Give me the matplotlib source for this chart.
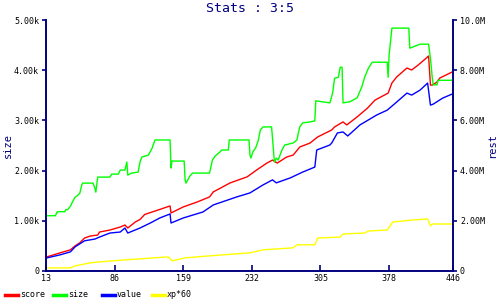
import matplotlib
matplotlib.use('Agg')
import matplotlib.pyplot as plt
from matplotlib.lines import Line2D

# size (k), left axis
size_x = [14, 23, 25, 33, 34, 36, 39, 41, 44, 47, 49, 51, 52, 63, 65, 66, 68, 81, 83, 90,
          92, 97, 99, 100, 104, 111, 113, 115, 122, 126, 127, 129, 145, 146, 147, 160, 161, 162,
          166, 169, 187, 190, 193, 198, 200, 207, 208, 229, 230, 231, 233, 236, 239, 241, 244,
          253, 256, 258, 260, 264, 267, 276, 280, 281, 283, 286, 294, 299, 300, 315, 318, 320,
          324, 326, 328, 329, 336, 344, 349, 352, 356, 360, 376, 377, 378, 381, 399, 400, 411,
          420, 422, 424, 425, 429, 430, 445, 446]
size_y = [1.10, 1.10, 1.18, 1.18, 1.22, 1.22, 1.29, 1.37, 1.47, 1.51, 1.55, 1.71, 1.75, 1.75,
          1.65, 1.57, 1.87, 1.87, 1.93, 1.93, 2.01, 2.01, 2.17, 1.91, 1.95, 1.97, 2.17, 2.27,
          2.31, 2.45, 2.51, 2.61, 2.61, 2.05, 2.19, 2.19, 1.81, 1.75, 1.89, 1.95, 1.95, 2.21,
          2.29, 2.37, 2.41, 2.41, 2.61, 2.61, 2.31, 2.25, 2.37, 2.45, 2.61, 2.81, 2.87, 2.87,
          2.17, 2.25, 2.21, 2.41, 2.51, 2.55, 2.61, 2.71, 2.87, 2.95, 2.97, 2.99, 3.39, 3.35,
          3.55, 3.84, 3.86, 4.06, 4.06, 3.35, 3.37, 3.45, 3.67, 3.86, 4.04, 4.16, 4.16, 3.86,
          4.30, 4.84, 4.84, 4.44, 4.52, 4.52, 4.24, 3.84, 3.71, 3.71, 3.80, 3.80, 3.84]

# score (M), right axis
score_x = [14, 28, 39, 44, 49, 54, 60, 68, 70, 81, 92, 97, 100, 108, 113, 118, 134, 145, 146,
           159, 174, 187, 191, 209, 227, 237, 248, 254, 259, 269, 276, 283, 294, 302, 317, 320,
           329, 333, 344, 355, 363, 377, 381, 386, 397, 402, 409, 419, 420, 422, 424, 429, 432, 445]
score_y = [0.56, 0.72, 0.84, 1.00, 1.12, 1.31, 1.39, 1.43, 1.55, 1.63, 1.75, 1.83, 1.71, 1.95,
           2.05, 2.25, 2.45, 2.59, 2.31, 2.55, 2.75, 2.95, 3.15, 3.51, 3.75, 4.02, 4.30, 4.42,
           4.30, 4.54, 4.62, 4.94, 5.10, 5.34, 5.62, 5.74, 5.94, 5.82, 6.14, 6.49, 6.81, 7.09,
           7.49, 7.73, 8.09, 8.01, 8.21, 8.53, 8.57, 7.41, 7.41, 7.53, 7.69, 7.93]

# value (M), right axis
value_x = [14, 28, 39, 44, 54, 65, 70, 81, 92, 97, 100, 113, 124, 134, 145, 146, 159, 180, 191,
           216, 230, 244, 254, 258, 273, 286, 299, 301, 315, 317, 323, 329, 334, 347, 365, 376,
           386, 397, 402, 411, 419, 422, 425, 435, 445]
value_y = [0.52, 0.64, 0.76, 0.96, 1.20, 1.27, 1.35, 1.51, 1.55, 1.71, 1.51, 1.71, 1.91, 2.11,
           2.27, 1.91, 2.11, 2.35, 2.63, 2.95, 3.11, 3.43, 3.63, 3.51, 3.71, 3.94, 4.14, 4.82,
           5.02, 5.10, 5.50, 5.54, 5.38, 5.82, 6.22, 6.41, 6.73, 7.09, 7.01, 7.21, 7.49, 6.61,
           6.65, 6.89, 7.05]

# xp*60 (M), right axis
xp_x = [14, 39, 44, 60, 70, 97, 113, 143, 147, 161, 187, 230, 244, 276, 280, 299, 302, 326,
        329, 352, 356, 376, 382, 393, 403, 419, 422, 424, 445]
xp_y = [0.12, 0.12, 0.20, 0.32, 0.36, 0.44, 0.48, 0.56, 0.40, 0.52, 0.60, 0.72, 0.84, 0.92,
        1.04, 1.04, 1.31, 1.35, 1.47, 1.51, 1.59, 1.63, 1.95, 1.99, 2.03, 2.07, 1.79, 1.87, 1.87]

x_ticks = [13, 86, 159, 232, 305, 378, 446]
left_ticks = [0, 1, 2, 3, 4, 5]
left_labels = ['0', '1.00k', '2.00k', '3.00k', '4.00k', '5.00k']
right_ticks = [0, 2, 4, 6, 8, 10]
right_labels = ['0', '2.00M', '4.00M', '6.00M', '8.00M', '10.0M']

navy = '#000080'
font = 'DejaVu Sans Mono'
plt.rcParams['font.family'] = font

fig = plt.figure(figsize=(5, 3), dpi=100)
ax = fig.add_axes([0.092, 0.097, 0.814, 0.836])
ax2 = ax.twinx()

ax2.plot(score_x, score_y, color='#ff0000', lw=1)
ax.plot(size_x, size_y, color='#00ff00', lw=1)
ax2.plot(value_x, value_y, color='#0000ff', lw=1)
ax2.plot(xp_x, xp_y, color='#ffff00', lw=1)
ax.set_zorder(ax2.get_zorder() + 1)
ax.patch.set_visible(False)

ax.set_xlim(13, 446)
ax.set_ylim(0, 5)
ax2.set_ylim(0, 10)
ax.set_xticks(x_ticks)
ax.set_yticks(left_ticks)
ax.set_yticklabels(left_labels)
ax2.set_yticks(right_ticks)
ax2.set_yticklabels(right_labels)

for a in (ax, ax2):
    for s in a.spines.values():
        s.set_color(navy)
        s.set_linewidth(1.2)
    a.spines['top'].set_visible(False)
    a.tick_params(colors=navy, labelcolor='black', labelsize=6, length=3, width=1.2)
ax.tick_params(axis='x', direction='in', length=4, pad=2)
ax.tick_params(axis='y', direction='out', pad=2)
ax2.tick_params(axis='y', direction='out', pad=2)

ax.set_ylabel('size', color=navy, fontsize=7.5)
ax2.set_ylabel('rest', color=navy, fontsize=7.5)
ax.yaxis.set_label_coords(-0.082, 0.5)
ax2.yaxis.set_label_coords(1.085, 0.5)
fig.suptitle('Stats : 3:5', color=navy, fontsize=9.5, y=0.995)

# legend along the bottom
items = [('score', '#ff0000', 0.010), ('size', '#00ff00', 0.106),
         ('value', '#0000ff', 0.204), ('xp*60', '#ffff00', 0.304)]
for label, col, x0 in items:
    fig.add_artist(Line2D([x0, x0 + 0.026], [0.017, 0.017], color=col, lw=2.5,
                          transform=fig.transFigure))
    fig.text(x0 + 0.030, 0.017, label, fontsize=6, va='center', ha='left')

fig.savefig('out.png', dpi=100)
